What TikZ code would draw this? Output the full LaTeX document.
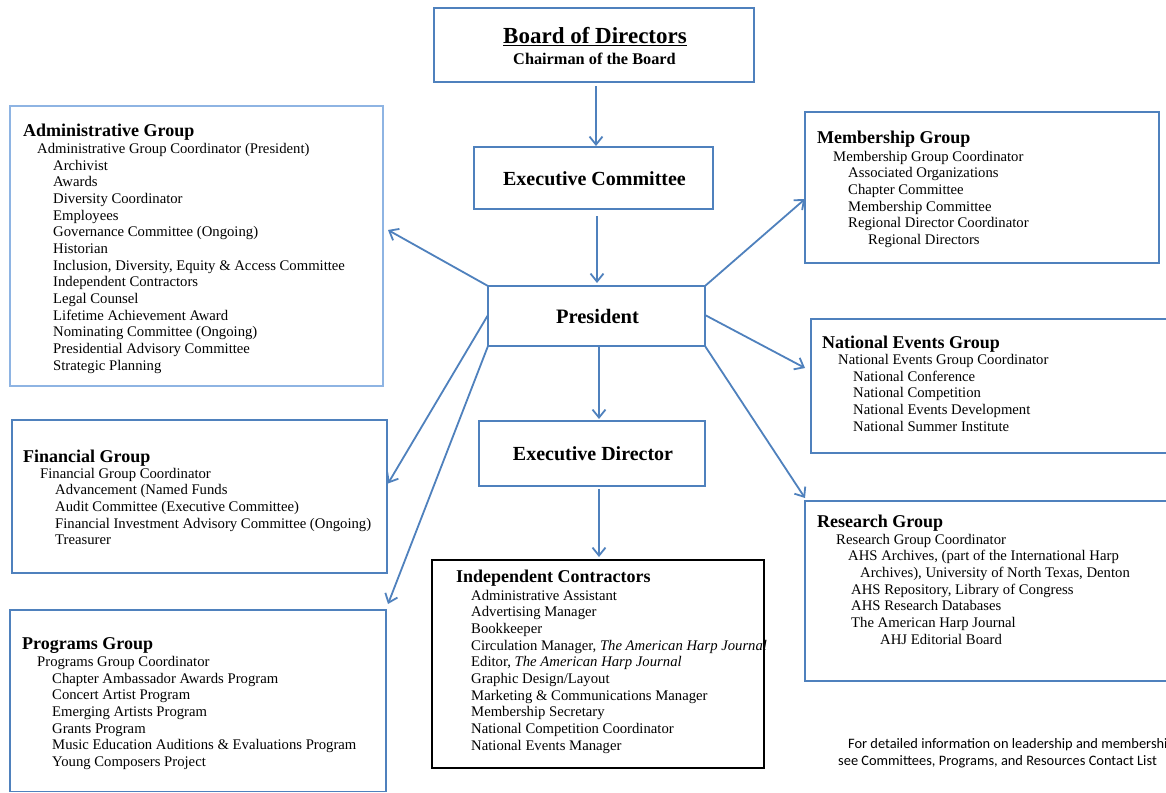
\documentclass[tikz,border=0pt]{standalone}
\usepackage{fontspec}
\setmainfont{Liberation Serif}
\newfontfamily\footfont{Carlito}
\usetikzlibrary{arrows.meta,calc}
\definecolor{ln}{HTML}{4F81BD}
\definecolor{lnl}{HTML}{8EB4E3}
\tikzset{
  box/.style={draw=ln, line width=1.6pt, inner sep=0pt, outer sep=0pt, anchor=north west},
  arr/.style={draw=ln, line width=1.8pt, -{Straight Barb[length=8pt,width=13pt,line width=1.8pt]}},
  head/.style={font=\fontsize{18pt}{20pt}\selectfont\bfseries, anchor=base west, inner sep=0pt},
  item/.style={font=\fontsize{14.7pt}{16.7pt}\selectfont, anchor=base west, inner sep=0pt},
  ctitle/.style={font=\fontsize{20pt}{24pt}\selectfont\bfseries, anchor=base, inner sep=0pt},
  foot/.style={font=\footfont\fontsize{14.4pt}{17pt}\selectfont, anchor=base west, inner sep=0pt},
}
\begin{document}
\begin{tikzpicture}[x=1pt,y=-1pt]
\clip (0,0) rectangle (1166,792);
\fill[white] (0,0) rectangle (1166,792);

% central boxes
\node[box, line width=1.3pt, minimum width=320pt, minimum height=74pt] (board) at (434,8) {};
\node[ctitle, font=\fontsize{23pt}{26pt}\selectfont\bfseries] (boardt) at (595,44) {\underline{Board of Directors}};
\node[ctitle, font=\fontsize{16.3pt}{19pt}\selectfont\bfseries] (boards) at (594.5,64) {Chairman of the Board};

\node[box, minimum width=239pt, minimum height=62pt] (ec) at (474,147) {};
\node[ctitle] (ect) at (594.5,185) {Executive Committee};

\node[box, minimum width=217pt, minimum height=60pt] (pres) at (488,286) {};
\node[ctitle, font=\fontsize{20.5pt}{24pt}\selectfont\bfseries] (prest) at (597.5,323) {President};

\node[box, minimum width=226pt, minimum height=65pt] (ed) at (479,421) {};
\node[ctitle] (edt) at (593,460) {Executive Director};

% Independent contractors
\node[box, draw=black, line width=1.6pt, minimum width=332pt, minimum height=208pt] (ic) at (432,560) {};
\node[head] (ict) at (456,582) {Independent Contractors};
\foreach \t [count=\i] in {Administrative Assistant, Advertising Manager, Bookkeeper,
  {Circulation Manager, \textit{The American Harp Journal}}, {Editor, \textit{The American Harp Journal}},
  Graphic Design/Layout, Marketing \& Communications Manager, Membership Secretary,
  National Competition Coordinator, National Events Manager}
  \node[item] (ic-\i) at (471,{600+16.67*(\i-1)}) {\t};

% Administrative
\node[box, draw=lnl, line width=1.1pt, minimum width=373pt, minimum height=280pt] (admin) at (10,106) {};
\node[head] (admint) at (23,136) {Administrative Group};
\foreach \x/\t [count=\i] in {37/Administrative Group Coordinator (President), 53/Archivist, 53/Awards,
  53/Diversity Coordinator, 53/Employees, 53/Governance Committee (Ongoing), 53/Historian,
  53/{Inclusion, Diversity, Equity \& Access Committee}, 53/Independent Contractors, 53/Legal Counsel,
  53/Lifetime Achievement Award, 53/Nominating Committee (Ongoing), 53/Presidential Advisory Committee,
  53/Strategic Planning}
  \node[item] (adm-\i) at (\x,{153.5+16.67*(\i-1)}) {\t};

% Financial
\node[box, minimum width=375pt, minimum height=153pt] (fin) at (12,420) {};
\node[head] (fint) at (23,462) {Financial Group};
\foreach \x/\t [count=\i] in {40/Financial Group Coordinator, 55/Advancement (Named Funds,
  55/Audit Committee (Executive Committee), 55/Financial Investment Advisory Committee (Ongoing),
  55/Treasurer}
  \node[item] (fin-\i) at (\x,{478+16.67*(\i-1)}) {\t};

% Programs
\node[box, minimum width=376pt, minimum height=181.5pt] (prog) at (10,610) {};
\node[head] (progt) at (22,649) {Programs Group};
\foreach \x/\t [count=\i] in {37/Programs Group Coordinator, 52/Chapter Ambassador Awards Program,
  52/Concert Artist Program, 52/Emerging Artists Program, 52/Grants Program,
  52/Music Education Auditions \& Evaluations Program, 52/Young Composers Project}
  \node[item] (prg-\i) at (\x,{666.5+16.67*(\i-1)}) {\t};

% Membership
\node[box, minimum width=354pt, minimum height=151pt] (mem) at (805,112) {};
\node[head] (memt) at (817,143.5) {Membership Group};
\foreach \x/\t [count=\i] in {833/Membership Group Coordinator, 848/Associated Organizations,
  848/Chapter Committee, 848/Membership Committee, 848/Regional Director Coordinator,
  868/Regional Directors}
  \node[item] (mem-\i) at (\x,{161+16.67*(\i-1)}) {\t};

% National Events
\node[box, minimum width=380pt, minimum height=134pt] (ne) at (811,319) {};
\node[head] (net) at (822,348) {National Events Group};
\foreach \x/\t [count=\i] in {838/National Events Group Coordinator, 853/National Conference,
  853/National Competition, 853/National Events Development, 853/National Summer Institute}
  \node[item] (ne-\i) at (\x,{364.5+16.67*(\i-1)}) {\t};

% Research
\node[box, minimum width=385pt, minimum height=180pt] (res) at (805,501) {};
\node[head] (rest) at (817,527) {Research Group};
\foreach \x/\t [count=\i] in {836/Research Group Coordinator,
  848/{AHS Archives, (part of the International Harp},
  860/{Archives), University of North Texas, Denton},
  851/{AHS Repository, Library of Congress}, 851/AHS Research Databases,
  851/The American Harp Journal, 880/AHJ Editorial Board}
  \node[item] (res-\i) at (\x,{544+16.67*(\i-1)}) {\t};

% footer
\node[foot] (note1) at (848,748) {For detailed information on leadership and membership};
\node[foot] (note2) at (838,765) {see Committees, Programs, and Resources Contact List};

% vertical arrows
\draw[arr] ($(board.south)+(2,4)$) -- ($(ec.north)+(2.5,-1)$);
\draw[arr] ($(ec.south)+(3.5,7)$) -- ($(pres.north)+(0.5,-3)$);
\draw[arr] ($(pres.south)+(2.5,0)$) -- ($(ed.north)+(7,-2)$);
\draw[arr] ($(ed.south)+(7,3)$) -- ($(ic.north)+(1,-3)$);

% diagonal arrows
\draw[arr] (pres.north west) -- ($(admin.east)+(5,-16)$);
\draw[arr] ($(pres.west)+(0,-1)$) -- ($(fin.east)+(1,-13)$);
\draw[arr] (pres.south west) -- ($(prog.north east)+(2,-6)$);
\draw[arr] (pres.north east) -- ($(mem.west)+(0,11.5)$);
\draw[arr] ($(pres.east)+(0,-1)$) -- ($(ne.west)+(-6,-18)$);
\draw[arr] (pres.south east) -- ($(res.north west)+(0,-3)$);
\end{tikzpicture}
\end{document}
